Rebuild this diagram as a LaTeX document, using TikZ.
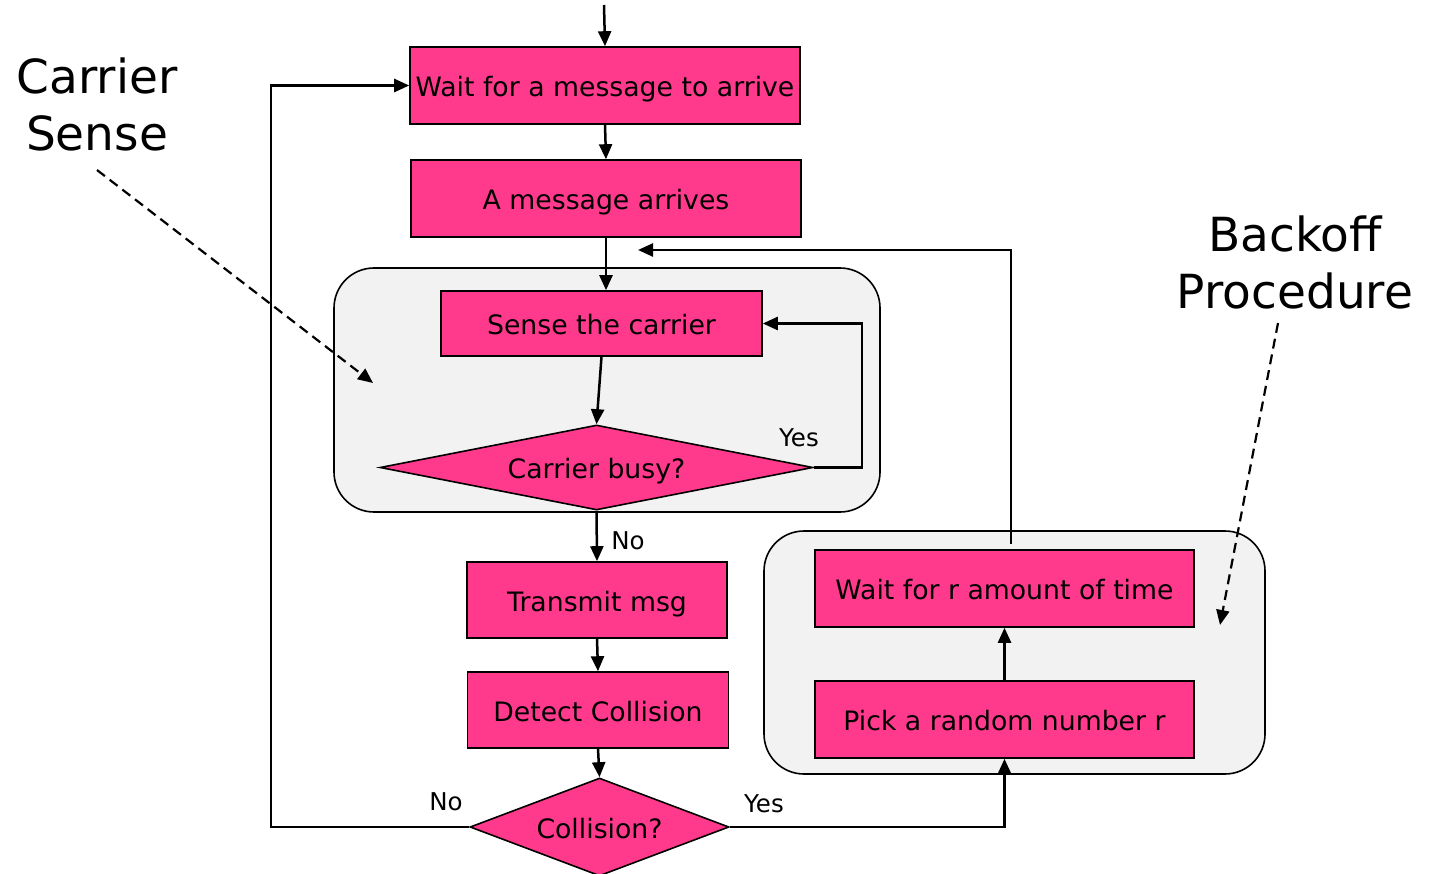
\documentclass[tikz,border=0pt]{standalone}
\usepackage{fontspec}
\setmainfont{DejaVu Sans}
\usetikzlibrary{shapes.geometric,arrows.meta,calc}
\definecolor{boxpink}{HTML}{FF3A8C}
\definecolor{panelgray}{HTML}{F2F2F2}
\tikzset{
  stepbox/.style={draw=black, line width=1.6, fill=boxpink, rectangle, inner sep=0,
    text height=25, text depth=2.5, font=\fontsize{26.7}{32}\selectfont},
  decision/.style={draw=black, line width=1.6, fill=boxpink, diamond, inner sep=0,
    text height=25, text depth=3, font=\fontsize{26.7}{32}\selectfont},
  panel/.style={draw=black, line width=1.6, fill=panelgray, rectangle, rounded corners=40, inner sep=0},
  flow/.style={line width=2.5, -{Triangle[length=15,width=13]}},
  hint/.style={line width=2.2, dash pattern=on 10 off 6, -{Triangle[length=15,width=13]}},
  lbl/.style={font=\fontsize{24.5}{30}\selectfont, inner sep=0},
  title/.style={font=\fontsize{47}{57}\selectfont, align=center, inner sep=0}
}
\begin{document}
\begin{tikzpicture}[x=1pt,y=-1pt]
\useasboundingbox (0,0) rectangle (1429,874);

% grouping panels
\node[panel, minimum width=546, minimum height=244] (csPanel) at (607,390) {};
\node[panel, minimum width=501, minimum height=243] (boPanel) at (1014.5,652.5) {};

% main flow
\node[stepbox, minimum width=390, minimum height=77] (waitmsg) at (605,85.5) {Wait for a message to arrive};
\node[stepbox, minimum width=390, minimum height=77] (arrives) at (606,198.5) {A message arrives};
\node[stepbox, minimum width=321, minimum height=65] (sense) at (601.5,323.5) {Sense the carrier};
\node[decision, aspect=5, minimum width=433, minimum height=85] (busy) at (596.5,467.5) {Carrier busy?};
\node[stepbox, minimum width=260, minimum height=76] (transmit) at (597,600) {Transmit msg};
\node[stepbox, minimum width=261, minimum height=76] (detect) at (598,710) {Detect Collision};
\node[decision, aspect=2.6, minimum width=259, minimum height=98] (collide) at (599.5,827) {Collision?};

% backoff steps
\node[stepbox, minimum width=379, minimum height=77] (waitr) at (1004.5,588.5) {Wait for r amount of time};
\node[stepbox, minimum width=379, minimum height=77] (pick) at (1004.5,719.5) {Pick a random number r};

% labels
\node[lbl] (yesBusy) at (799,438) {Yes};
\node[lbl] (noBusy) at (628,541) {No};
\node[lbl] (noColl) at (446,802) {No};
\node[lbl] (yesColl) at (764,804) {Yes};
\node[title] (csTitle) at (97,104) {Carrier\\Sense};
\node[title] (boTitle) at (1295,262) {Backoff\\Procedure};

% connectors
\coordinate (entry) at (604,5);
\draw[flow] (entry) -- (waitmsg.north);
\draw[flow] (waitmsg.south) -- (arrives.north);
\draw[flow] (arrives.south) -- (arrives.south |- sense.north);
\draw[flow] (sense.south) -- (busy.north);
\draw[flow] (busy.east) -- (862,467.5) |- (sense.east);
\draw[flow] (busy.south) -- (transmit.north);
\draw[flow] (transmit.south) -- (detect.north);
\draw[flow] (detect.south) -- (collide.north);
\draw[flow] (collide.west) -- (271,827) |- (waitmsg.west);
\draw[flow] (collide.east) -| (pick.south);
\draw[flow] (pick.north) -- (waitr.south);
\coordinate (boStart) at (1011,544);
\coordinate (boEnd) at (638,250);
\draw[flow] (boStart) |- (boEnd);

% pointers from the titles
\coordinate (csFrom) at (97,170);
\coordinate (csTo) at (373,383);
\coordinate (boFrom) at (1278,323);
\coordinate (boTo) at (1220,625);
\draw[hint] (csFrom) -- (csTo);
\draw[hint] (boFrom) -- (boTo);
\end{tikzpicture}
\end{document}
